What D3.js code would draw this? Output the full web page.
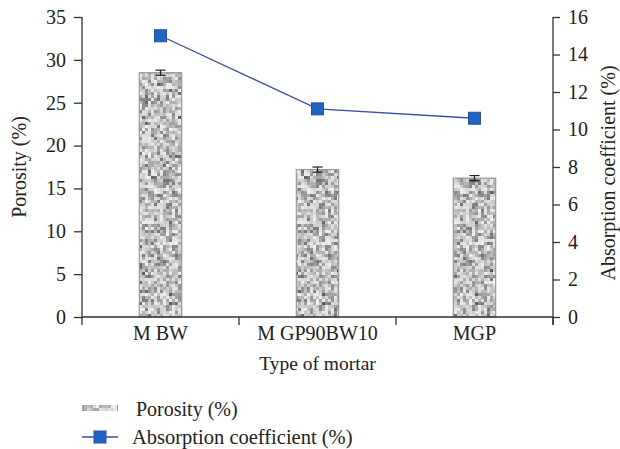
<!DOCTYPE html>
<html>
<head>
  <meta charset="utf-8" />
  <script src="https://d3js.org/d3.v7.min.js"></script>
  <style>
    body { margin: 0; padding: 0; background: #fff; }
    svg text { fill: #222; }
    .axis path, .axis line { stroke: #333; stroke-width: 1.3; }
  </style>
</head>
<body>
  <svg id="chart" width="620" height="449"></svg>
  <script>
    const categories = ["M BW", "M GP90BW10", "MGP"];
    const porosity = [28.5, 17.2, 16.2];
    const porosityErr = [0.3, 0.3, 0.3];
    const absorption = [15.0, 11.1, 10.6];
    const leftTicks = [0, 5, 10, 15, 20, 25, 30, 35];
    const rightTicks = [0, 2, 4, 6, 8, 10, 12, 14, 16];

    const serif = "'Liberation Serif', 'Times New Roman', serif";
    const svg = d3.select("#chart").attr("font-family", serif);
    const margin = { top: 17, left: 82, right: 67, bottom: 132 };
    const width = 620 - margin.left - margin.right;
    const height = 449 - margin.top - margin.bottom;
    const g = svg.append("g").attr("transform", `translate(${margin.left},${margin.top})`);

    // speckled grey texture for the bars (deterministic noise)
    const defs = svg.append("defs");
    const pat = defs.append("pattern").attr("id", "speckle")
      .attr("patternUnits", "userSpaceOnUse").attr("width", 51).attr("height", 252);
    let seed = 11;
    function rnd() { seed = (seed * 16807) % 2147483647; return seed / 2147483647; }
    for (let i = 0; i < 17; i++) {
      for (let j = 0; j < 84; j++) {
        const r = rnd();
        const v = Math.round(90 + Math.pow(r, 0.5) * 150);
        pat.append("rect").attr("x", i * 3).attr("y", j * 3).attr("width", 3).attr("height", 3)
          .attr("fill", `rgb(${v},${v},${v})`);
      }
    }

    const x = d3.scaleBand().domain(categories).range([0, width]);
    const yL = d3.scaleLinear().domain([0, 35]).range([height, 0]);
    const yR = d3.scaleLinear().domain([0, 16]).range([height, 0]);
    const barW = x.bandwidth() * 0.27;

    // bars
    g.selectAll(".bar").data(categories).enter().append("rect")
      .attr("x", d => x(d) + x.bandwidth() / 2 - barW / 2)
      .attr("y", (d, i) => yL(porosity[i]))
      .attr("width", barW)
      .attr("height", (d, i) => height - yL(porosity[i]))
      .attr("fill", "url(#speckle)")
      .attr("stroke", "#999").attr("stroke-width", 1.2);

    // error bars
    categories.forEach((c, i) => {
      const cx = x(c) + x.bandwidth() / 2;
      const eg = g.append("g").attr("stroke", "#222").attr("stroke-width", 1.2);
      eg.append("line").attr("x1", cx).attr("x2", cx)
        .attr("y1", yL(porosity[i] - porosityErr[i])).attr("y2", yL(porosity[i] + porosityErr[i]));
      [porosity[i] - porosityErr[i], porosity[i] + porosityErr[i]].forEach(v => {
        eg.append("line").attr("x1", cx - 5).attr("x2", cx + 5).attr("y1", yL(v)).attr("y2", yL(v));
      });
    });

    // axes
    const left = g.append("g").attr("class", "axis")
      .call(d3.axisLeft(yL).tickValues(leftTicks).tickSize(8).tickPadding(8).tickSizeOuter(0));
    left.select(".domain").attr("d", `M0,0V${height}`);
    const right = g.append("g").attr("class", "axis").attr("transform", `translate(${width},0)`)
      .call(d3.axisRight(yR).tickValues(rightTicks).tickSize(7).tickPadding(8).tickSizeOuter(0));
    right.select(".domain").attr("d", `M0,0V${height + 8}`);
    const xAxis = g.append("g").attr("class", "axis").attr("transform", `translate(0,${height})`)
      .call(d3.axisBottom(x).tickSize(0).tickPadding(9));
    xAxis.select(".domain").attr("d", `M0,0H${width}`);
    [left, right, xAxis].forEach(a => a.attr("font-family", serif).attr("font-size", 20));
    // tick marks at band boundaries
    const bounds = categories.map(c => x(c)).concat([width]);
    xAxis.selectAll(".bnd").data(bounds).enter().append("line")
      .attr("x1", d => d).attr("x2", d => d).attr("y1", 0).attr("y2", 8)
      .attr("stroke", "#333").attr("stroke-width", 1.3);

    // line series
    const line = d3.line().x((d, i) => x(categories[i]) + x.bandwidth() / 2).y(d => yR(d));
    g.append("path").datum(absorption).attr("d", line)
      .attr("fill", "none").attr("stroke", "#3a4ea3").attr("stroke-width", 1.3);
    g.selectAll(".pt").data(absorption).enter().append("rect")
      .attr("x", (d, i) => x(categories[i]) + x.bandwidth() / 2 - 6)
      .attr("y", d => yR(d) - 6)
      .attr("width", 12).attr("height", 12)
      .attr("fill", "#1f64c0").attr("stroke", "#2a4f9a").attr("stroke-width", 1);

    // axis titles
    svg.append("text").attr("transform", `translate(26,${margin.top + height / 2}) rotate(-90)`)
      .attr("text-anchor", "middle").attr("font-size", 20).text("Porosity (%)");
    svg.append("text").attr("transform", `translate(615,${margin.top + height / 2 + 6}) rotate(-90)`)
      .attr("text-anchor", "middle").attr("font-size", 20).text("Absorption coefficient (%)");
    svg.append("text").attr("x", margin.left + width / 2).attr("y", 370)
      .attr("text-anchor", "middle").attr("font-size", 19.5).text("Type of mortar");

    // legend
    const lg = svg.append("g");
    lg.append("rect").attr("x", 82).attr("y", 405).attr("width", 36).attr("height", 6)
      .attr("fill", "url(#speckle)").attr("opacity", 0.8);
    lg.append("text").attr("x", 136).attr("y", 416).attr("font-size", 20).text("Porosity (%)");
    lg.append("line").attr("x1", 82).attr("x2", 118).attr("y1", 437).attr("y2", 437)
      .attr("stroke", "#3a4ea3").attr("stroke-width", 1.3);
    lg.append("rect").attr("x", 94).attr("y", 431).attr("width", 12).attr("height", 12)
      .attr("fill", "#1f64c0").attr("stroke", "#2a4f9a");
    lg.append("text").attr("x", 132).attr("y", 444).attr("font-size", 20.5).text("Absorption coefficient (%)");
  </script>
</body>
</html>
